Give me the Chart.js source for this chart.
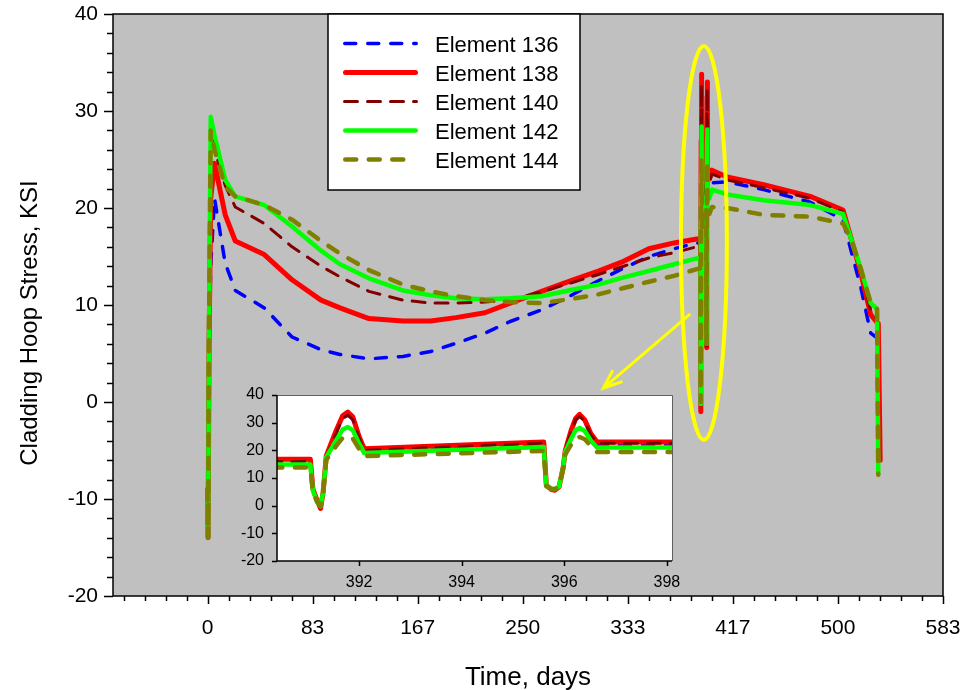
<!DOCTYPE html>
<html>
<head>
<meta charset="utf-8">
<script src="https://cdn.jsdelivr.net/npm/chart.js@4/dist/chart.umd.min.js"></script>
<style>
  html, body { margin: 0; padding: 0; background: #ffffff; }
  #wrap { position: relative; width: 963px; height: 690px; }
  #main { position: absolute; left: 0; top: 0; }
  #inset { position: absolute; left: 230px; top: 385px; }
</style>
</head>
<body>
<div id="wrap">
  <canvas id="main" width="963" height="690"></canvas>
  <canvas id="inset" width="450" height="210"></canvas>
</div>
<script>
// Time points (days) shared by every element series
const days = [
  0, 0.4, 1.2, 2.5, 5.5, 14, 22, 45, 67, 90, 105, 128, 155, 177, 197, 220, 240, 265, 290, 310, 330, 350, 370, 388,
  391.05, 391.1, 391.18, 391.25, 391.3, 391.36, 391.55, 391.68, 391.78, 391.88, 392.0, 392.1,
  395.6, 395.65, 395.75, 395.82, 395.9, 395.98, 396.02, 396.13, 396.22, 396.3, 396.4, 396.52, 396.64, 398.1,
  400, 412, 441, 478, 504, 511, 518, 526, 531, 532, 533.5
];

// Cladding hoop stress (KSI) per element
const element136 = [
  -9, -14, 6, 14, 21, 14.3, 11.5, 9.7, 6.7, 5.4, 4.9, 4.45, 4.7, 5.2, 6.05, 7.1, 8.3, 9.5, 11.1, 12.5, 13.8, 15.0, 15.8, 16.4,
  16.4, 6, 2, -0.8, 5, 17.5, 26.5, 32, 33.0, 31.5, 24.5, 20.2,
  22.3, 7.5, 6, 5.8, 7, 14, 20, 26.5, 31, 32.5, 30.5, 25.5, 22.0, 22.0,
  22.6, 22.7, 21.9, 20.6, 18.8, 15.3, 11.9, 7.1, 6.6, -7.2, null
];
const element138 = [
  -9, -14, 6, 21, 24.6, 19.3, 16.6, 15.2, 12.6, 10.5, 9.7, 8.6, 8.35, 8.35, 8.7, 9.2, 10.2, 11.4, 12.6, 13.5, 14.5, 15.8, 16.4, 16.8,
  16.8, 6, 2, -1, 5, 18, 27, 32.5, 33.8, 32, 25, 20.6,
  23.0, 7.4, 5.8, 5.6, 6.8, 14, 20, 27, 31.5, 33.0, 31, 26, 23.0, 23.0,
  23.9, 23.2, 22.4, 21.2, 19.8, 16.6, 13.4, 9.0, 8.2, 8.1, -6.0
];
const element140 = [
  -9, -14, 8, 29, 26, 22.3, 20.1, 18.4, 16.0, 14.0, 12.9, 11.4, 10.5, 10.2, 10.2, 10.3, 10.55, 11.35, 12.35, 13.15, 14.0, 14.85, 15.4, 16.0,
  16.0, 6, 2, -0.6, 5, 17.5, 26, 31.5, 32.7, 31, 24.5, 20.0,
  22.6, 7.5, 6, 5.8, 7, 14, 20, 26.5, 31, 32.3, 30.5, 25.5, 22.6, 22.6,
  23.5, 22.9, 22.1, 21.0, 19.6, 16.6, 13.8, 9.4, 8.5, -6.5, null
];
const element142 = [
  -9, -14, 8, 29.4, 27.5, 22.9, 21.2, 20.3, 18.1, 15.6, 14.2, 12.75, 11.5, 11.0, 10.7, 10.6, 10.7, 10.9, 11.6, 12.1, 12.85, 13.5, 14.2, 14.8,
  14.85, 5.5, 1.5, -0.2, 5, 17.5, 23.5, 27.5, 28.4, 27.2, 22.5, 19.0,
  21.2, 7.2, 6, 6, 7, 14, 19.5, 24, 27.3, 28.1, 27, 23.5, 21.0, 21.0,
  21.9, 21.4, 20.8, 20.3, 19.4, 16.6, 13.8, 10.2, 9.6, -7.4, null
];
const element144 = [
  -9, -14, 8, 28, 26, 22.2, 21.2, 20.3, 18.8, 16.6, 15.3, 13.6, 12.1, 11.4, 10.9, 10.5, 10.3, 10.2, 10.65, 11.1, 11.75, 12.4, 13.0, 13.7,
  13.8, 5, 1.5, 0, 5, 16.5, 21.5, 24.5, 25.1, 24.2, 20.5, 17.9,
  19.8, 7, 6, 6, 7, 13.5, 18.5, 22, 24.3, 24.8, 24, 21.5, 19.4, 19.4,
  20.1, 20.0, 19.3, 19.1, 18.4, 16.6, 13.8, 10.2, 9.6, -7.5, null
];

const seriesNames = ['Element 136', 'Element 138', 'Element 140', 'Element 142', 'Element 144'];
const seriesValues = [element136, element138, element140, element142, element144];

// Axis ticks
const timeTicks = [0, 83.33, 166.67, 250, 333.33, 416.67, 500, 583.33];
const timeTickLabels = ['0', '83', '167', '250', '333', '417', '500', '583'];
const stressTicks = [-20, -10, 0, 10, 20, 30, 40];
const insetTimeTicks = [392, 394, 396, 398];

// Highlight of the two power transients (data units) and the pointer to the detail view
const highlight = { day: 393.7, stress: 16.4, rDays: 18.2, rStress: 20.3 };
const pointer = { fromDay: 382.2, fromStress: 9.0, toDay: 314, toStress: 1.44 };

const FONT = '"Liberation Sans", Arial, Helvetica, sans-serif';
const lineStyles = [
  { color: '#0000FF', width: 3.5, dash: [11, 12] },
  { color: '#FF0000', width: 5, dash: [] },
  { color: '#800000', width: 3, dash: [13, 10] },
  { color: '#00FF00', width: 4.5, dash: [] },
  { color: '#808000', width: 4.5, dash: [11, 12.5] }
];

function makeDatasets() {
  return seriesNames.map((name, i) => ({
    label: name,
    data: days.map((d, k) => ({ x: d, y: seriesValues[i][k] })),
    borderColor: lineStyles[i].color,
    borderWidth: lineStyles[i].width,
    borderDash: lineStyles[i].dash,
    borderCapStyle: 'round',
    borderJoinStyle: 'round',
    pointRadius: 0,
    tension: 0,
    fill: false,
    spanGaps: false,
    order: seriesNames.length - i
  }));
}

function setTicks(values) {
  return (scale) => { scale.ticks = values.map(v => ({ value: v })); };
}

// Fix an axis to a given thickness and keep its labels from shrinking the plot area
function fixSize(prop, size) {
  return (scale) => {
    scale[prop] = size;
    scale.paddingTop = 0;
    scale.paddingBottom = 0;
    scale.paddingLeft = 0;
    scale.paddingRight = 0;
  };
}

// Gray plot field, frame, minor/major tick marks, titles, legend, highlight ellipse and arrow
const mainDecor = {
  id: 'mainDecor',
  beforeDatasetsDraw(chart) {
    const { ctx, chartArea: a } = chart;
    ctx.save();
    ctx.fillStyle = '#C0C0C0';
    ctx.fillRect(a.left, a.top, a.right - a.left, a.bottom - a.top);
    ctx.restore();
  },
  afterDatasetsDraw(chart) {
    const { ctx, scales: { x, y } } = chart;
    ctx.save();
    const cx = x.getPixelForValue(highlight.day);
    const cy = y.getPixelForValue(highlight.stress);
    const rx = Math.abs(x.getPixelForValue(highlight.day + highlight.rDays) - cx);
    const ry = Math.abs(y.getPixelForValue(highlight.stress + highlight.rStress) - cy);
    ctx.strokeStyle = '#FFFF00';
    ctx.lineWidth = 4;
    ctx.beginPath();
    ctx.ellipse(cx, cy, rx, ry, 0, 0, Math.PI * 2);
    ctx.stroke();
    const x0 = x.getPixelForValue(pointer.fromDay), y0 = y.getPixelForValue(pointer.fromStress);
    const x1 = x.getPixelForValue(pointer.toDay), y1 = y.getPixelForValue(pointer.toStress);
    const ang = Math.atan2(y1 - y0, x1 - x0);
    ctx.lineWidth = 3;
    ctx.lineCap = 'round';
    ctx.beginPath();
    ctx.moveTo(x0, y0);
    ctx.lineTo(x1, y1);
    const head = 19, spread = 0.38;
    ctx.moveTo(x1 - head * Math.cos(ang - spread), y1 - head * Math.sin(ang - spread));
    ctx.lineTo(x1, y1);
    ctx.lineTo(x1 - head * Math.cos(ang + spread), y1 - head * Math.sin(ang + spread));
    ctx.stroke();
    ctx.restore();
  },
  afterDraw(chart) {
    const { ctx, chartArea: a, scales: { x, y } } = chart;
    ctx.save();
    ctx.strokeStyle = '#000';
    ctx.lineWidth = 1.5;
    ctx.strokeRect(a.left, a.top, a.right - a.left, a.bottom - a.top);
    ctx.beginPath();
    for (let v = -20; v <= 40; v += 2) {
      const p = Math.round(y.getPixelForValue(v)) + 0.5;
      const len = (v % 10 === 0) ? 9 : 6;
      ctx.moveTo(a.left - len, p);
      ctx.lineTo(a.left, p);
    }
    const step = (timeTicks[1] - timeTicks[0]) / 5;
    for (let k = -4; k <= 35; k++) {
      const v = k * step;
      if (v < x.min - 0.01 || v > x.max + 0.01) continue;
      const p = Math.round(x.getPixelForValue(v)) + 0.5;
      const len = (k % 5 === 0) ? 8 : 5;
      ctx.moveTo(p, a.bottom);
      ctx.lineTo(p, a.bottom + len);
    }
    ctx.stroke();

    ctx.fillStyle = '#000';
    ctx.font = '26px ' + FONT;
    ctx.textAlign = 'center';
    ctx.textBaseline = 'alphabetic';
    ctx.fillText('Time, days', (a.left + a.right) / 2, 685);
    ctx.save();
    ctx.translate(36.5, 323);
    ctx.rotate(-Math.PI / 2);
    ctx.font = '24px ' + FONT;
    ctx.fillText('Cladding Hoop Stress, KSI', 0, 0);
    ctx.restore();

    const bx = 328, by = a.top, bw = 252, bh = 176;
    ctx.fillStyle = '#fff';
    ctx.fillRect(bx, by, bw, bh);
    ctx.strokeStyle = '#000';
    ctx.lineWidth = 1.5;
    ctx.strokeRect(bx, by, bw, bh);
    ctx.font = '22px ' + FONT;
    ctx.textAlign = 'left';
    seriesNames.forEach((name, i) => {
      const ly = 43.5 + 29 * i;
      const st = lineStyles[i];
      ctx.save();
      ctx.strokeStyle = st.color;
      ctx.lineWidth = st.width;
      ctx.lineCap = 'round';
      ctx.setLineDash(st.dash);
      ctx.beginPath();
      ctx.moveTo(343 + st.width / 2, ly);
      ctx.lineTo(418 - st.width / 2, ly);
      ctx.stroke();
      ctx.restore();
      ctx.fillStyle = '#000';
      ctx.fillText(name, 435, ly + 8);
    });
    ctx.restore();
  }
};

new Chart(document.getElementById('main'), {
  type: 'line',
  data: { datasets: makeDatasets() },
  options: {
    responsive: false,
    animation: false,
    devicePixelRatio: 1,
    layout: { padding: { top: 14, right: 20, left: 0, bottom: 0 } },
    plugins: { legend: { display: false }, tooltip: { enabled: false } },
    scales: {
      x: {
        type: 'linear', min: -75, max: 583.33,
        afterBuildTicks: setTicks(timeTicks),
        afterFit: fixSize('height', 94),
        grid: { display: false, drawTicks: false },
        border: { display: false },
        ticks: {
          autoSkip: false, maxRotation: 0, padding: 20, color: '#000',
          font: { family: FONT, size: 21 },
          callback: (v, i) => timeTickLabels[i]
        }
      },
      y: {
        type: 'linear', min: -20, max: 40,
        afterBuildTicks: setTicks(stressTicks),
        afterFit: fixSize('width', 113),
        grid: { display: false, drawTicks: false },
        border: { display: false },
        ticks: { padding: 15, color: '#000', font: { family: FONT, size: 21 } }
      }
    }
  },
  plugins: [mainDecor]
});

// Detail view of the two transients around day 391-397
const insetDecor = {
  id: 'insetDecor',
  beforeDatasetsDraw(chart) {
    const { ctx, chartArea: a } = chart;
    ctx.save();
    ctx.fillStyle = '#ffffff';
    ctx.fillRect(a.left, a.top, a.right - a.left, a.bottom - a.top);
    ctx.restore();
  },
  afterDraw(chart) {
    const { ctx, chartArea: a, scales: { x, y } } = chart;
    ctx.save();
    ctx.strokeStyle = '#606060';
    ctx.lineWidth = 1;
    ctx.beginPath();
    ctx.moveTo(a.left, a.top + 0.5);
    ctx.lineTo(a.right + 0.5, a.top + 0.5);
    ctx.lineTo(a.right + 0.5, a.bottom);
    ctx.stroke();
    ctx.strokeStyle = '#000';
    ctx.lineWidth = 1.5;
    ctx.beginPath();
    ctx.moveTo(a.left, a.top);
    ctx.lineTo(a.left, a.bottom);
    ctx.lineTo(a.right, a.bottom);
    stressTicks.forEach(v => {
      const p = Math.round(y.getPixelForValue(v)) + 0.5;
      ctx.moveTo(a.left - 5, p);
      ctx.lineTo(a.left, p);
    });
    insetTimeTicks.forEach(v => {
      const p = Math.round(x.getPixelForValue(v)) + 0.5;
      ctx.moveTo(p, a.bottom);
      ctx.lineTo(p, a.bottom + 5);
    });
    ctx.stroke();
    ctx.restore();
  }
};

new Chart(document.getElementById('inset'), {
  type: 'line',
  data: { datasets: makeDatasets() },
  options: {
    responsive: false,
    animation: false,
    devicePixelRatio: 1,
    layout: { padding: { top: 10, right: 8, left: 0, bottom: 0 } },
    plugins: { legend: { display: false }, tooltip: { enabled: false } },
    scales: {
      x: {
        type: 'linear', min: 390.4, max: 398.1,
        afterBuildTicks: setTicks(insetTimeTicks),
        afterFit: fixSize('height', 34),
        grid: { display: false, drawTicks: false },
        border: { display: false },
        ticks: { autoSkip: false, maxRotation: 0, padding: 12, color: '#000', font: { family: FONT, size: 16 } }
      },
      y: {
        type: 'linear', min: -20, max: 40,
        afterBuildTicks: setTicks(stressTicks),
        afterFit: fixSize('width', 47),
        grid: { display: false, drawTicks: false },
        border: { display: false },
        ticks: { padding: 13, color: '#000', font: { family: FONT, size: 16 } }
      }
    }
  },
  plugins: [insetDecor]
});
</script>
</body>
</html>
